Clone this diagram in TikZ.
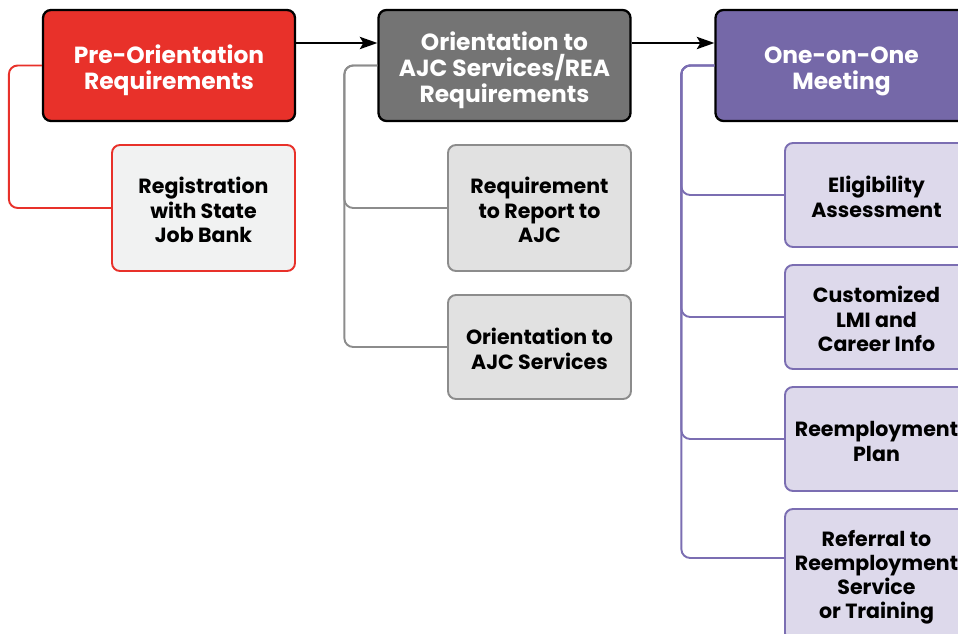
\documentclass[tikz,border=0pt]{standalone}
\usepackage{fontspec}
\setmainfont{Poppins}
\usetikzlibrary{arrows.meta}
\definecolor{rd}{HTML}{E8312A}
\definecolor{gy}{HTML}{747474}
\definecolor{pu}{HTML}{7568A8}
\definecolor{rdl}{HTML}{F1F2F2}
\definecolor{gyl}{HTML}{E1E1E1}
\definecolor{pul}{HTML}{DDD9EB}
\definecolor{gyb}{HTML}{8C8C8C}
\definecolor{pub}{HTML}{7B6EB2}
\newcommand{\hdstrut}{\rule{0pt}{16pt}}
\newcommand{\sbstrut}{\rule{0pt}{11.5pt}}

\begin{document}
\begin{tikzpicture}[
    x=.02cm, y=-.02cm,
    head/.style={draw=black, line width=1.3pt, rounded corners=4.5pt,
      text=white, align=center, inner sep=0pt,
      font=\bfseries\fontsize{13.3}{14.8}\selectfont,
      minimum width=5.04cm, minimum height=2.22cm},
    sub/.style={line width=1.1pt, rounded corners=4.5pt,
      align=center, inner sep=0pt,
      font=\bfseries\fontsize{11.7}{13.7}\selectfont,
      minimum width=3.66cm},
    link/.style={line width=1.1pt, rounded corners=5pt},
    flow/.style={line width=1.1pt, -{Stealth[length=10pt, width=7pt, inset=2pt]}}]

      \path[use as bounding box, clip] (0,0) rectangle (958,634);

      % heads
      \node[head, fill=rd] (pre) at (169,65.5) {\hdstrut Pre-Orientation\\Requirements};
      \node[head, fill=gy] (orient) at (504.5,65.5) {\hdstrut Orientation to\\AJC Services/REA\\Requirements};
      \node[head, fill=pu] (meet) at (841.5,65.5) {\hdstrut One-on-One\\Meeting};

      \draw[flow] ([yshift=.45cm]pre.east) -- ([yshift=.45cm]orient.west);
      \draw[flow] ([yshift=.45cm]orient.east) -- ([yshift=.45cm]meet.west);

      % pre-orientation
      \node[sub, draw=rd, fill=rdl, minimum height=2.52cm] (reg) at (203.5,208) {\sbstrut Registration\\with State\\Job Bank};

      \draw[link, draw=rd] (pre.west) -- ++(-33,0) |- (reg.west);

      % orientation
      \node[sub, draw=gyb, fill=gyl, minimum height=2.52cm] (report) at (539.5,208) {\sbstrut Requirement\\to Report to\\AJC};
      \node[sub, draw=gyb, fill=gyl, minimum height=2.08cm] (ajc) at (539.5,347) {\sbstrut Orientation to\\AJC Services};

      \foreach \p in {report, ajc}
        \draw[link, draw=gyb] (orient.west) -- ++(-33,0) |- (\p.west);

      % one-on-one
      \node[sub, draw=pub, fill=pul, minimum height=2.08cm] (elig) at (876.5,195) {\sbstrut Eligibility\\Assessment};
      \node[sub, draw=pub, fill=pul, minimum height=2.08cm] (lmi) at (876.5,317) {\sbstrut Customized\\LMI and\\Career Info};
      \node[sub, draw=pub, fill=pul, minimum height=2.08cm] (plan) at (876.5,439) {\sbstrut Reemployment\\Plan};
      \node[sub, draw=pub, fill=pul, minimum height=2.64cm] (refer) at (876.5,575) {\sbstrut Referral to\\Reemployment\\Service\\or Training};

      \foreach \p in {elig, lmi, plan}
        \draw[link, draw=pub] (meet.west) -- ++(-33,0) |- (\p.west);
      \draw[link, draw=pub] (meet.west) -- ++(-33,0) |- ([yshift=.34cm]refer.west);

\end{tikzpicture}
\end{document}
